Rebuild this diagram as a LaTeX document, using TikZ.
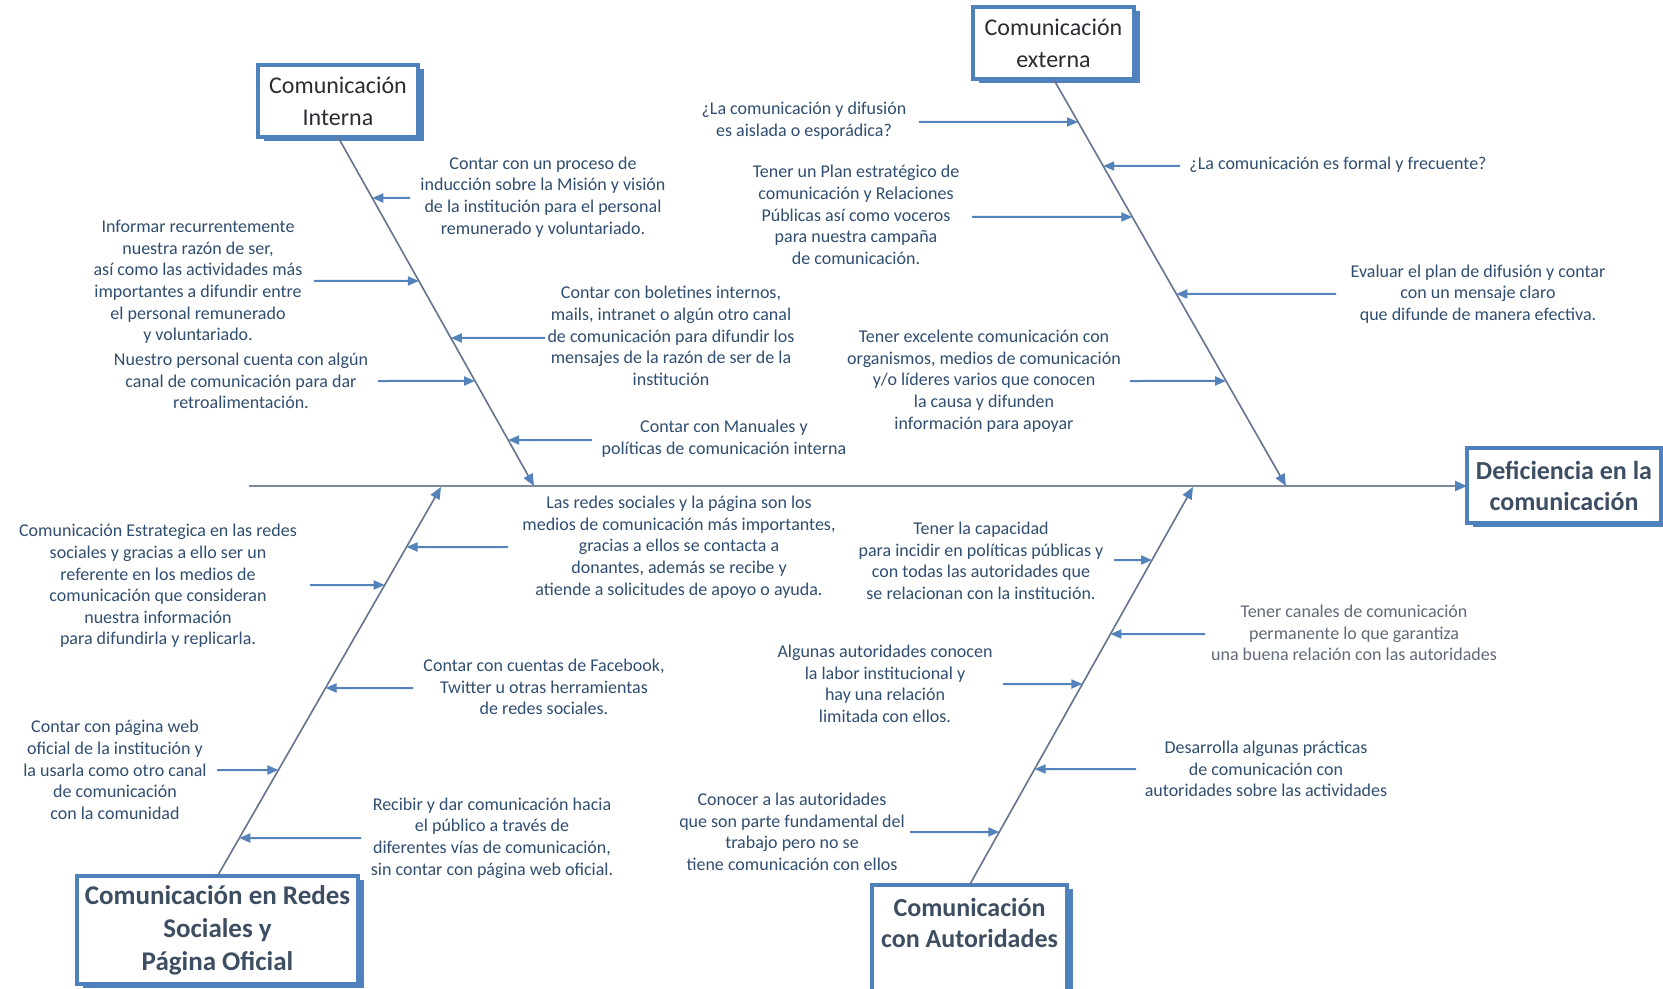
\documentclass[tikz,border=0pt]{standalone}
\usepackage{fontspec}
\setmainfont{Carlito}
\usetikzlibrary{arrows.meta,calc,shadows}
\definecolor{boxblue}{RGB}{79,129,189}
\definecolor{arrblue}{RGB}{84,130,186}
\definecolor{bonegray}{RGB}{100,116,140}
\definecolor{spinegray}{RGB}{125,138,156}
\definecolor{txt}{RGB}{48,78,112}
\definecolor{ttl}{RGB}{42,44,50}
\definecolor{ttlb}{RGB}{62,78,98}
\definecolor{soft}{RGB}{96,106,120}

\begin{document}
\begin{tikzpicture}[x=0.5pt,y=-0.5pt,
  note/.style={align=center,inner sep=0pt,text=txt,font=\fontsize{9}{10.8}\selectfont},
  catbox/.style={draw=boxblue,line width=2.2pt,fill=white,inner sep=1pt,outer sep=0pt,align=center,
    drop shadow={shadow xshift=2.8pt,shadow yshift=-1.8pt,fill=boxblue,opacity=1}},
  ttlreg/.style={text=ttl,font=\fontsize{12}{16}\selectfont},
  ttlbold/.style={text=ttlb,font=\fontsize{13}{15.5}\selectfont\bfseries},
  bone/.style={draw=bonegray,line width=0.8pt,-{Triangle[length=6pt,width=5pt,color=arrblue]}},
  spine/.style={draw=spinegray,line width=1.2pt,-{Triangle[length=6pt,width=5pt,color=arrblue]}},
  cause/.style={draw=arrblue,line width=1pt,-{Triangle[length=5.5pt,width=4.5pt]}}
]
\useasboundingbox (0,0) rectangle (1663,989);
\fill[white] (0,0) rectangle (1663,989);

% ---- category boxes ----
\node[catbox,ttlreg,minimum width=80pt,minimum height=36pt] (int) at (338,101) {Comunicación\\Interna};
\node[catbox,ttlreg,minimum width=80.5pt,minimum height=36pt] (ext) at (1053.5,43) {Comunicación\\externa};
\node[catbox,ttlbold,minimum width=97pt,minimum height=37.5pt] (def) at (1564,485.5) {Deficiencia en la\\comunicación};
\node[catbox,ttlbold,font=\fontsize{13.5}{16.5}\selectfont\bfseries,minimum width=140.5pt,minimum height=54pt] (red) at (217.5,930) {Comunicación en Redes\\Sociales y\\Página Oficial};
\node[catbox,minimum width=97.5pt,minimum height=55pt] (aut) at (969.5,940) {};
\node[ttlbold,align=center,inner sep=0pt] (autT) at (969.5,922.5) {Comunicación\\con Autoridades};

% ---- spine and bones ----
\coordinate (sp0) at (249,486);
\draw[spine] (sp0) -- (sp0 -| def.west);
\coordinate (iE) at (534,486);
\coordinate (eE) at (1286,486);
\coordinate (rE) at (441,487);
\coordinate (aE) at (1193,487);
\draw[bone] (int.south) -- (iE);
\draw[bone] (ext.south) -- (eE);
\draw[bone] (red.north) -- (rE);
\draw[bone] (aut.north) -- (aE);

% ---- notes: internal communication ----
\node[note] (n-proc) at (543,197) {Contar con un proceso de\\inducción sobre la Misión y visión\\de la institución para el personal\\remunerado y voluntariado.};
\node[note] (n-inf) at (198,282) {Informar recurrentemente\\nuestra razón de ser,\\así como las actividades más\\importantes a difundir entre\\el personal remunerado\\y voluntariado.};
\node[note] (n-bol) at (671,336) {Contar con boletines internos,\\mails, intranet o algún otro canal\\de comunicación para difundir los\\mensajes de la razón de ser de la\\institución};
\node[note] (n-nue) at (241,381) {Nuestro personal cuenta con algún\\canal de comunicación para dar\\retroalimentación.};
\node[note] (n-man) at (724,439) {Contar con Manuales y\\políticas de comunicación interna};

% ---- notes: external communication ----
\node[note] (n-dif) at (804,121) {¿La comunicación y difusión\\es aislada o esporádica?};
\node[note] (n-for) at (1338,165) {¿La comunicación es formal y frecuente?};
\node[note] (n-plan) at (856,215) {Tener un Plan estratégico de\\comunicación y Relaciones\\Públicas así como voceros\\para nuestra campaña\\de comunicación.};
\node[note] (n-eva) at (1478,294) {Evaluar el plan de difusión y contar\\con un mensaje claro\\que difunde de manera efectiva.};
\node[note] (n-exc) at (984,381) {Tener excelente comunicación con\\organismos, medios de comunicación\\y/o líderes varios que conocen\\la causa y difunden\\información para apoyar};

% ---- notes: social networks and web page ----
\node[note] (n-las) at (679,547) {Las redes sociales y la página son los\\medios de comunicación más importantes,\\gracias a ellos se contacta a\\donantes, además se recibe y\\atiende a solicitudes de apoyo o ayuda.};
\node[note] (n-est) at (158,586) {Comunicación Estrategica en las redes\\sociales y gracias a ello ser un\\referente en los medios de\\comunicación que consideran\\nuestra información\\para difundirla y replicarla.};
\node[note] (n-fb) at (544,687) {Contar con cuentas de Facebook,\\Twitter u otras herramientas\\de redes sociales.};
\node[note] (n-web) at (115,770) {Contar con página web\\oficial de la institución y\\la usarla como otro canal\\de comunicación\\con la comunidad};
\node[note] (n-rec) at (492,838) {Recibir y dar comunicación hacia\\el público a través de\\diferentes vías de comunicación,\\sin contar con página web oficial.};

% ---- notes: authorities ----
\node[note] (n-cap) at (981,561) {Tener la capacidad\\para incidir en políticas públicas y\\con todas las autoridades que\\se relacionan con la institución.};
\node[note,text=soft] (n-can) at (1354,633) {Tener canales de comunicación\\permanente lo que garantiza\\una buena relación con las autoridades};
\node[note] (n-alg) at (885,684) {Algunas autoridades conocen\\la labor institucional y\\hay una relación\\limitada con ellos.};
\node[note] (n-des) at (1266,769) {Desarrolla algunas prácticas\\de comunicación con\\autoridades sobre las actividades};
\node[note] (n-con) at (792,832) {Conocer a las autoridades\\que son parte fundamental del\\trabajo pero no se\\tiene comunicación con ellos};

% ---- cause arrows on the internal bone ----
\coordinate (i1) at ($(int.south)!{61/349}!(iE)$);
\coordinate (i2) at ($(int.south)!{144/349}!(iE)$);
\coordinate (i3) at ($(int.south)!{201/349}!(iE)$);
\coordinate (i4) at ($(int.south)!{244/349}!(iE)$);
\coordinate (i5) at ($(int.south)!{303/349}!(iE)$);
\coordinate (ti1) at (410,198);
\coordinate (ti2) at (314,281);
\coordinate (ti3) at (545,338);
\coordinate (ti4) at (378,381);
\coordinate (ti5) at (592,440);
\foreach \k in {1,...,5} \draw[cause] (ti\k) -- (i\k);

% ---- cause arrows on the external bone ----
\coordinate (e1) at ($(ext.south)!{43/407}!(eE)$);
\coordinate (e2) at ($(ext.south)!{87/407}!(eE)$);
\coordinate (e3) at ($(ext.south)!{138/407}!(eE)$);
\coordinate (e4) at ($(ext.south)!{215/407}!(eE)$);
\coordinate (e5) at ($(ext.south)!{302/407}!(eE)$);
\coordinate (te1) at (919,122);
\coordinate (te2) at (1180,166);
\coordinate (te3) at (972,217);
\coordinate (te4) at (1336,294);
\coordinate (te5) at (1130,381);
\foreach \k in {1,...,5} \draw[cause] (te\k) -- (e\k);

% ---- cause arrows on the social networks bone ----
\coordinate (r1) at ($(red.north)!{329/389}!(rE)$);
\coordinate (r2) at ($(red.north)!{291/389}!(rE)$);
\coordinate (r3) at ($(red.north)!{188/389}!(rE)$);
\coordinate (r4) at ($(red.north)!{106/389}!(rE)$);
\coordinate (r5) at ($(red.north)!{38/389}!(rE)$);
\coordinate (tr1) at (508,547);
\coordinate (tr2) at (310,585);
\coordinate (tr3) at (413,688);
\coordinate (tr4) at (217,770);
\coordinate (tr5) at (361,838);
\foreach \k in {1,...,5} \draw[cause] (tr\k) -- (r\k);

% ---- cause arrows on the authorities bone ----
\coordinate (a1) at ($(aut.north)!{325/398}!(aE)$);
\coordinate (a2) at ($(aut.north)!{251/398}!(aE)$);
\coordinate (a3) at ($(aut.north)!{201/398}!(aE)$);
\coordinate (a4) at ($(aut.north)!{116/398}!(aE)$);
\coordinate (a5) at ($(aut.north)!{53/398}!(aE)$);
\coordinate (ta1) at (1114,560);
\coordinate (ta2) at (1205,634);
\coordinate (ta3) at (1003,684);
\coordinate (ta4) at (1136,769);
\coordinate (ta5) at (910,832);
\foreach \k in {1,...,5} \draw[cause] (ta\k) -- (a\k);
\end{tikzpicture}
\end{document}
